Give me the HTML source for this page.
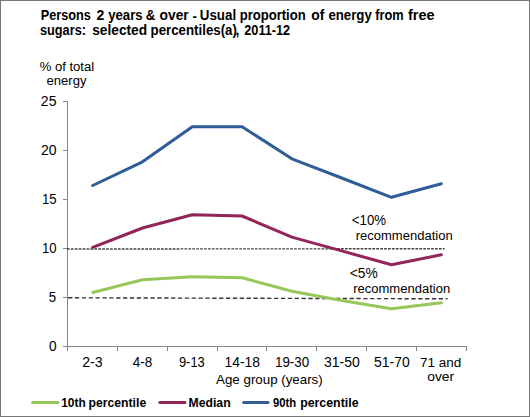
<!DOCTYPE html>
<html><head><meta charset="utf-8">
<style>
html,body{margin:0;padding:0;background:#fff;}
#c{position:relative;width:530px;height:417px;overflow:hidden;background:#fff;font-family:"Liberation Sans",sans-serif;color:#000;}
svg{position:absolute;left:0;top:0;}
</style></head>
<body><div id="c">
<svg width="530" height="417" viewBox="0 0 530 417">
  <rect x="0.5" y="0.5" width="529" height="416" fill="none" stroke="#777" stroke-width="1"/>
  <!-- axes -->
  <g stroke="#868686" stroke-width="1" fill="none" shape-rendering="crispEdges">
    <line x1="67.5" y1="101" x2="67.5" y2="346"/>
    <line x1="67" y1="346.5" x2="467" y2="346.5"/>
    <line x1="63" y1="101.5" x2="67" y2="101.5"/>
    <line x1="63" y1="150.5" x2="67" y2="150.5"/>
    <line x1="63" y1="199.5" x2="67" y2="199.5"/>
    <line x1="63" y1="248.5" x2="67" y2="248.5"/>
    <line x1="63" y1="297.5" x2="67" y2="297.5"/>
    <line x1="63" y1="346.5" x2="67" y2="346.5"/>
    <line x1="67.5" y1="346" x2="67.5" y2="351"/>
    <line x1="117.5" y1="346" x2="117.5" y2="351"/>
    <line x1="167.5" y1="346" x2="167.5" y2="351"/>
    <line x1="217.5" y1="346" x2="217.5" y2="351"/>
    <line x1="266.5" y1="346" x2="266.5" y2="351"/>
    <line x1="316.5" y1="346" x2="316.5" y2="351"/>
    <line x1="366.5" y1="346" x2="366.5" y2="351"/>
    <line x1="416.5" y1="346" x2="416.5" y2="351"/>
    <line x1="466.5" y1="346" x2="466.5" y2="351"/>
  </g>
  <!-- reference lines -->
  <line x1="66.985" y1="249.0" x2="444.6" y2="248.75" stroke="#444" stroke-width="1.4" stroke-dasharray="2.75,1.165"/>
  <line x1="68.1" y1="297.8" x2="447.5" y2="298.8" stroke="#333" stroke-width="1.4" stroke-dasharray="4.3,2.565"/>
  <!-- series -->
  <polyline fill="none" stroke="#97C75A" stroke-width="3" stroke-linejoin="round" stroke-linecap="round" points="92.7,292.5 142.5,279.7 192.3,276.7 242.1,277.8 291.9,291.2 341.7,300.4 391.5,308.8 441.3,302.8"/>
  <polyline fill="none" stroke="#93255A" stroke-width="3" stroke-linejoin="round" stroke-linecap="round" points="92.7,247.3 142.5,228.0 192.3,214.8 242.1,216.0 291.9,237.1 341.7,250.9 391.5,264.7 441.3,254.8"/>
  <polyline fill="none" stroke="#2F5D98" stroke-width="3" stroke-linejoin="round" stroke-linecap="round" points="92.7,185.5 142.5,161.8 192.3,126.7 242.1,126.7 291.9,158.8 341.7,178.0 391.5,197.3 441.3,183.7"/>
  <!-- legend lines -->
  <line x1="32.5" y1="402.6" x2="58" y2="402.6" stroke="#97C75A" stroke-width="3" stroke-linecap="round"/>
  <line x1="159.8" y1="402.6" x2="185" y2="402.6" stroke="#93255A" stroke-width="3" stroke-linecap="round"/>
  <line x1="243.6" y1="402.6" x2="268" y2="402.6" stroke="#2F5D98" stroke-width="3" stroke-linecap="round"/>







<g id="texts" font-family="'Liberation Sans', sans-serif" fill="#000">
<text transform="translate(40.81,20) scale(0.908,1)" font-weight="700" font-size="14">Persons</text>
<text transform="translate(96.39,20) scale(1.000,1)" font-weight="700" font-size="14">2</text>
<text transform="translate(108.16,20) scale(0.943,1)" font-weight="700" font-size="14">years</text>
<text transform="translate(145.63,20) scale(0.950,1)" font-weight="700" font-size="14">&amp;</text>
<text transform="translate(159.60,20) scale(0.985,1)" font-weight="700" font-size="14">over</text>
<text transform="translate(192.53,21.2) scale(0.950,1)" font-weight="700" font-size="14">-</text>
<text transform="translate(199.79,20) scale(0.954,1)" font-weight="700" font-size="14">Usual</text>
<text transform="translate(239.66,20) scale(0.934,1)" font-weight="700" font-size="14">proportion</text>
<text transform="translate(311.20,20) scale(0.990,1)" font-weight="700" font-size="14">of</text>
<text transform="translate(328.43,20) scale(0.946,1)" font-weight="700" font-size="14">energy</text>
<text transform="translate(375.23,20) scale(0.912,1)" font-weight="700" font-size="14">from</text>
<text transform="translate(407.99,20) scale(1.035,1)" font-weight="700" font-size="14">free</text>
<text transform="translate(39.96,35) scale(0.911,1)" font-weight="700" font-size="14">sugars:</text>
<text transform="translate(92.19,35) scale(0.981,1)" font-weight="700" font-size="14">selected</text>
<text transform="translate(150.54,35) scale(0.950,1)" font-weight="700" font-size="14">percentiles(a)</text>
<text transform="translate(235.38,35) scale(1.000,1)" font-weight="700" font-size="14">,</text>
<text transform="translate(244.24,35) scale(0.909,1)" font-weight="700" font-size="14">2011-12</text>
<text transform="translate(39.64,70.8) scale(0.970,1)" font-weight="400" font-size="13.5">% of total</text>
<text transform="translate(46.52,85.1) scale(0.970,1)" font-weight="400" font-size="13.5">energy</text>
<text transform="translate(40.87,106) scale(1.007,1)" font-weight="400" font-size="14">25</text>
<text transform="translate(40.97,155) scale(1.006,1)" font-weight="400" font-size="14">20</text>
<text transform="translate(41.88,204) scale(0.942,1)" font-weight="400" font-size="14">15</text>
<text transform="translate(41.89,253) scale(0.941,1)" font-weight="400" font-size="14">10</text>
<text transform="translate(48.64,302) scale(0.950,1)" font-weight="400" font-size="14">5</text>
<text transform="translate(49.01,351) scale(0.979,1)" font-weight="400" font-size="14">0</text>
<text transform="translate(82.16,367) scale(1.011,1)" font-weight="400" font-size="14">2-3</text>
<text transform="translate(132.73,367) scale(0.960,1)" font-weight="400" font-size="14">4-8</text>
<text transform="translate(178.95,367) scale(0.920,1)" font-weight="400" font-size="14">9-13</text>
<text transform="translate(224.53,367) scale(0.992,1)" font-weight="400" font-size="14">14-18</text>
<text transform="translate(274.97,367) scale(0.957,1)" font-weight="400" font-size="14">19-30</text>
<text transform="translate(323.96,367) scale(0.998,1)" font-weight="400" font-size="14">31-50</text>
<text transform="translate(374.10,367) scale(0.997,1)" font-weight="400" font-size="14">51-70</text>
<text transform="translate(419.97,367) scale(1.003,1)" font-weight="400" font-size="13.5">71 and</text>
<text transform="translate(427.20,381.2) scale(1.025,1)" font-weight="400" font-size="13.5">over</text>
<text transform="translate(216.08,384.4) scale(0.987,1)" font-weight="400" font-size="13.5">Age group (years)</text>
<text transform="translate(351.87,225) scale(0.946,1)" font-weight="400" font-size="14">&lt;10%</text>
<text transform="translate(355.71,240) scale(0.965,1)" font-weight="400" font-size="13.5">recommendation</text>
<text transform="translate(349.72,278.4) scale(0.987,1)" font-weight="400" font-size="14">&lt;5%</text>
<text transform="translate(353.21,292.8) scale(0.965,1)" font-weight="400" font-size="13.5">recommendation</text>
<text transform="translate(61.21,407) scale(0.953,1)" font-weight="700" font-size="12.5">10th</text>
<text transform="translate(88.45,407) scale(0.978,1)" font-weight="700" font-size="12.5">percentile</text>
<text transform="translate(188.57,407) scale(0.977,1)" font-weight="700" font-size="12.5">Median</text>
<text transform="translate(273.04,407) scale(0.902,1)" font-weight="700" font-size="12.5">90th</text>
<text transform="translate(300.14,407) scale(0.989,1)" font-weight="700" font-size="12.5">percentile</text>
</g>
</svg>
</div></body></html>
